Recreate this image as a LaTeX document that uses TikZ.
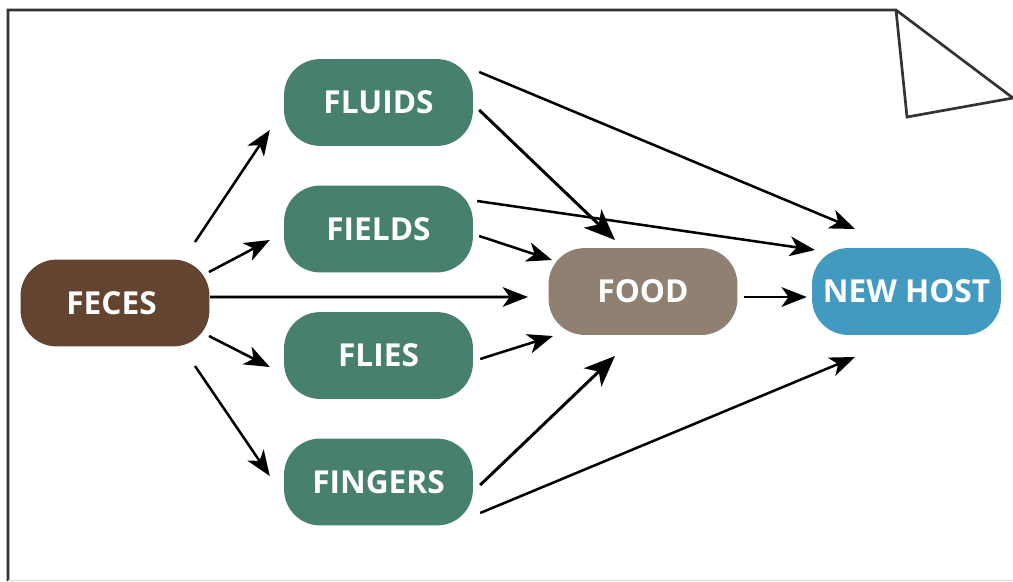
\documentclass[tikz,border=0pt]{standalone}
\usepackage{fontspec}
\setmainfont{Open Sans}
\usetikzlibrary{arrows.meta}
\definecolor{teal}{HTML}{47806F}
\definecolor{brownbox}{HTML}{634430}
\definecolor{taupe}{HTML}{8F8071}
\definecolor{bluebox}{HTML}{429AC0}
\tikzset{
  box/.style={rounded corners=0.9cm,inner sep=0pt,minimum width=4.72cm,minimum height=2.17cm,
    text=white,font=\fontsize{22.5}{26}\selectfont\bfseries},
  flow/.style={-{Stealth[length=18pt,width=14pt,inset=5pt]},line width=1.8pt,black},
  bigflow/.style={flow,-{Stealth[length=22pt,width=18pt,inset=6pt]},line width=2.1pt},
  sheet/.style={line width=1.9pt,black!80}
}
\begin{document}
\begin{tikzpicture}[x=0.025cm,y=-0.025cm]
  \useasboundingbox (0,0) rectangle (1013,581);
  % Sheet
  \draw[sheet,line join=miter] (8,581) -- (8,10) -- (896,10) -- (1013,98) -- (907,117) -- (896,10);
  \draw[black!15,line width=0.6pt] (8,580.5) -- (1013,580.5);
  % Boxes
  \node[box,fill=brownbox] (feces) at (115,303) {\hspace*{-5pt}FECES};
  \node[box,fill=teal] (fluids) at (378.5,102.5) {FLUIDS};
  \node[box,fill=teal] (fields) at (378.5,229) {FIELDS};
  \node[box,fill=teal] (flies) at (378.5,355.5) {FLIES};
  \node[box,fill=teal] (fingers) at (378.5,482) {FINGERS};
  \node[box,fill=taupe] (food) at (643,291.5) {FOOD};
  \node[box,fill=bluebox] (newhost) at (906.5,291.5) {NEW HOST};
  % From feces
  \draw[flow] ([shift={(80,-61)}]feces.center) -- ([shift={(-14,27.5)}]fluids.west);
  \draw[flow] ([shift={(94,-31)}]feces.center) -- ([shift={(-14,11)}]fields.west);
  \draw[flow] ([shift={(95,-6)}]feces.center) -- ([shift={(-115,5.5)}]food.center);
  \draw[flow] ([shift={(94,33)}]feces.center) -- ([shift={(-14,11.5)}]flies.west);
  \draw[flow] ([shift={(80,63)}]feces.center) -- ([shift={(-14,-6)}]fingers.west);
  % To food
  \draw[bigflow] ([shift={(6,7.5)}]fluids.east) -- ([shift={(-28,-51.5)}]food.center);
  \draw[flow] ([shift={(6,7)}]fields.east) -- ([shift={(-91,-31.5)}]food.center);
  \draw[flow] ([shift={(7,3.5)}]flies.east) -- ([shift={(-90,44.5)}]food.center);
  \draw[bigflow] ([shift={(7,3)}]fingers.east) -- ([shift={(-28,64.5)}]food.center);
  % To new host
  \draw[flow] ([shift={(6,-30.5)}]fluids.east) -- ([shift={(-51.5,-62.5)}]newhost.center);
  \draw[flow] ([shift={(4,-28)}]fields.east) -- ([shift={(-91.5,-41.5)}]newhost.center);
  \draw[flow] ([shift={(7,31)}]fingers.east) -- ([shift={(-51.5,65.5)}]newhost.center);
  \draw[flow] ([shift={(6,5.5)}]food.east) -- ([shift={(-5,5.5)}]newhost.west);
\end{tikzpicture}
\end{document}
